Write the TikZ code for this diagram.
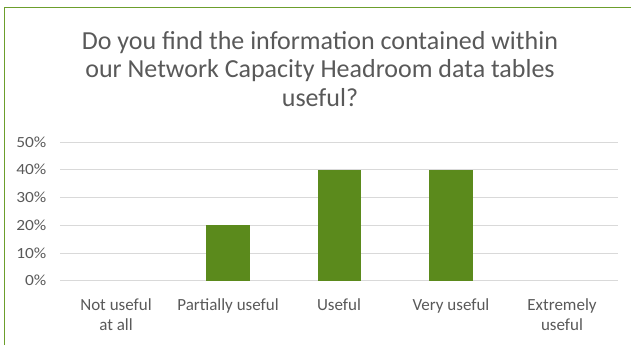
\documentclass[tikz,border=0pt]{standalone}
\usepackage{fontspec}
\setmainfont{Carlito}
\newfontfamily\widelbl[FakeStretch=1.12]{Carlito}
\definecolor{bargreen}{HTML}{5B8A1C}
\definecolor{framegreen}{HTML}{6C9E2C}
\definecolor{txtgray}{HTML}{595959}
\definecolor{gridgray}{HTML}{D9D9D9}
\begin{document}
\begin{tikzpicture}[x=1pt,y=-1pt,
  grid/.style={draw=gridgray,line width=1pt},
  bar/.style={fill=bargreen,draw=none},
  ylab/.style={anchor=east,text=txtgray,font=\widelbl\fontsize{15.5}{18}\selectfont,inner sep=0pt},
  xlab/.style={anchor=north,text=txtgray,font=\fontsize{17}{20}\selectfont,align=center,inner sep=0pt},
  titlestyle/.style={anchor=north,text=txtgray,font=\fontsize{26}{28.5}\selectfont,align=center,inner sep=0pt}]
\useasboundingbox (0,0) rectangle (631,345);
\draw[framegreen,line width=1.6pt] (4.5,345) -- (4.5,7.5) -- (631,7.5);
\node[titlestyle] (title) at (320,31) {Do you find the information contained within\\our Network Capacity Headroom data tables\\useful?};
\foreach \v/\y in {0/280.5,10/253,20/225,30/197,40/169.5,50/142}{
  \draw[grid] (60,\y) -- (618,\y);
  \node[ylab] (y\v) at (46.5,\y) {\v\%};
}
\fill[bar] (206,280.5) rectangle (250,225);
\fill[bar] (318,280.5) rectangle (361,169.5);
\fill[bar] (429,280.5) rectangle (473,169.5);
\node[xlab] (c1) at (116,298) {Not useful\\at all};
\node[xlab] (c2) at (228,298) {Partially useful};
\node[xlab] (c3) at (339,298) {Useful};
\node[xlab] (c4) at (451,298) {Very useful};
\node[xlab] (c5) at (562,298) {Extremely\\useful};
\end{tikzpicture}
\end{document}
